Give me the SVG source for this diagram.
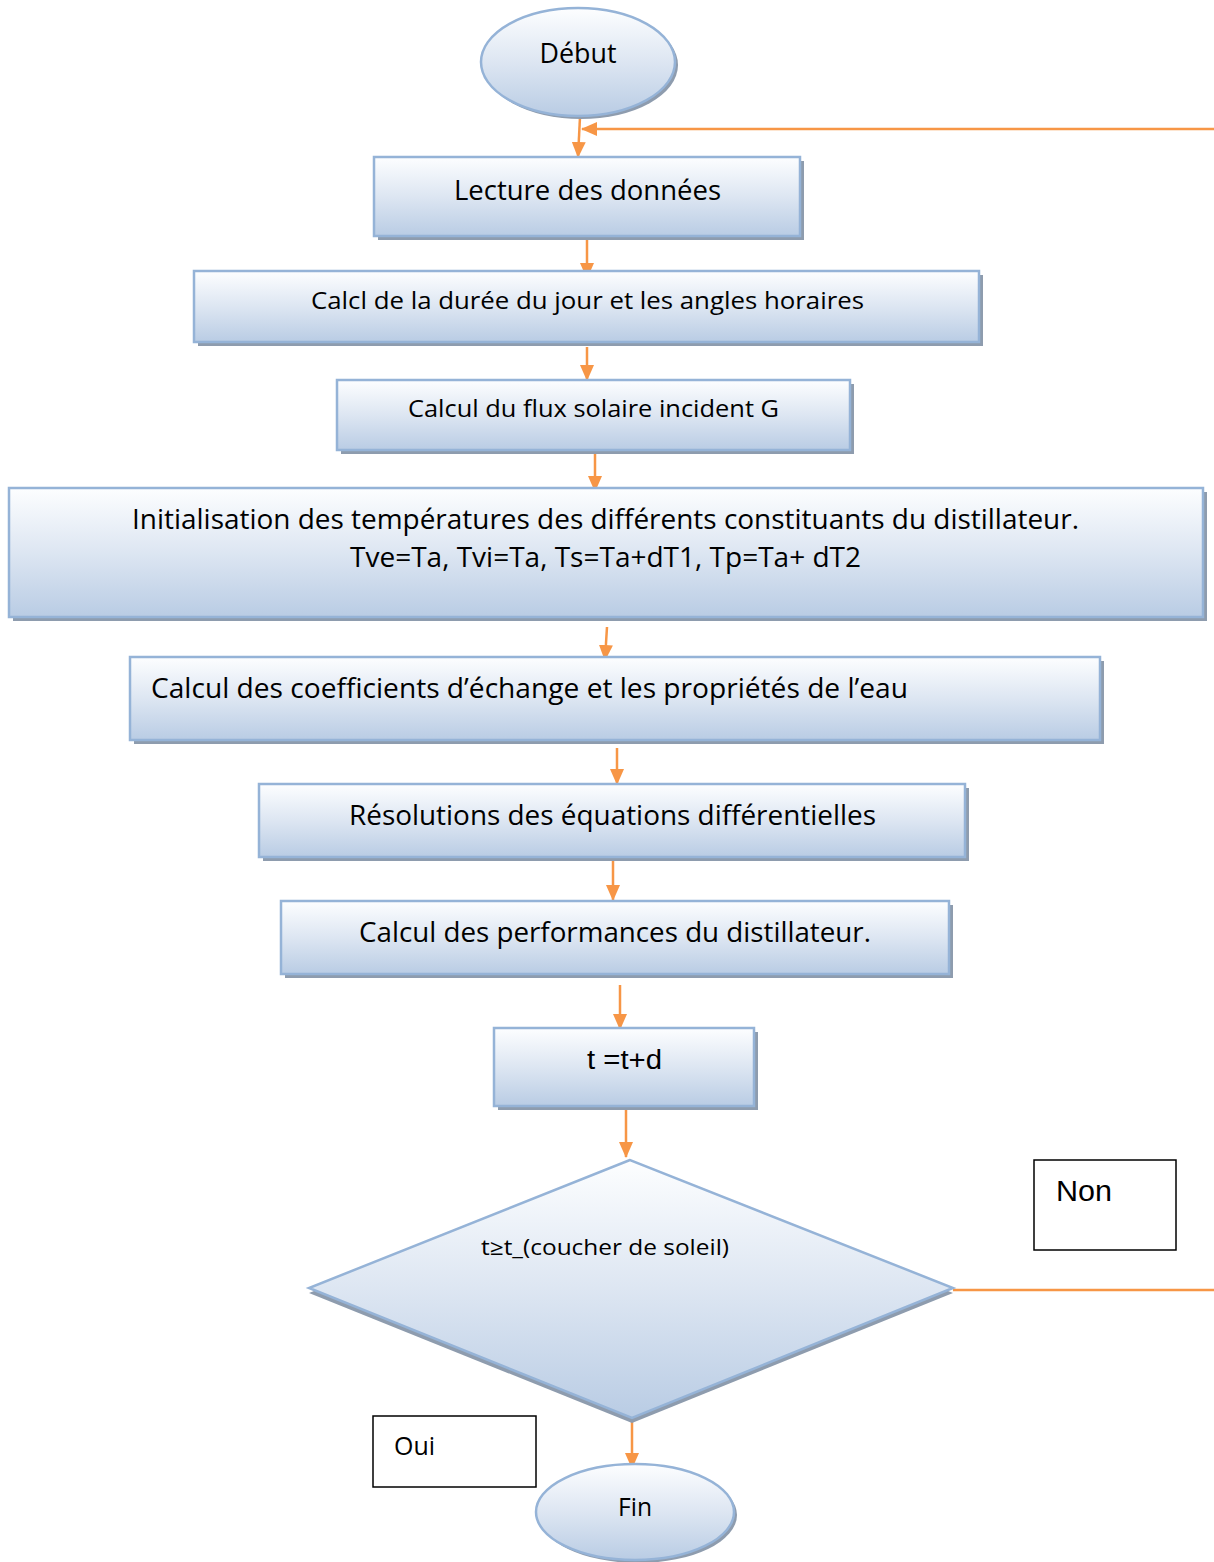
<svg xmlns="http://www.w3.org/2000/svg" width="1214" height="1562" viewBox="0 0 1214 1562">
<defs>
<linearGradient id="g" x1="0" y1="0" x2="0" y2="1">
<stop offset="0" stop-color="#fdfeff"/>
<stop offset="0.5" stop-color="#dde6f2"/>
<stop offset="1" stop-color="#b9cce4"/>
</linearGradient>
<marker id="ah" markerWidth="16" markerHeight="14" refX="15" refY="7" orient="auto" markerUnits="userSpaceOnUse" viewBox="0 0 16 14">
<path d="M0,0 L16,7 L0,14 Z" fill="#f79646"/>
</marker>
<style>
.n{fill:url(#g);stroke:#95b3d7;stroke-width:2.5}
.sh{fill:#8e9cae}
.t{font-family:"Open Sans","Liberation Sans",sans-serif;fill:#000}
.ar{font-family:"Liberation Sans","Open Sans",sans-serif;fill:#000}
.c{stroke:#f79646;stroke-width:2.5;fill:none}
.a{marker-end:url(#ah)}
.lb{fill:#fff;stroke:#000;stroke-width:1.5}
</style>
</defs>
<g id="connectors">
<line class="c a" x1="580" y1="117" x2="578" y2="157"/>
<line class="c a" x1="1214" y1="129" x2="582" y2="129"/>
<line class="c a" x1="587" y1="234" x2="587" y2="278"/>
<line class="c a" x1="587" y1="347" x2="587" y2="380"/>
<line class="c a" x1="595" y1="450" x2="595" y2="491"/>
<line class="c a" x1="607" y1="627" x2="605" y2="660"/>
<line class="c a" x1="617" y1="748" x2="617" y2="784"/>
<line class="c a" x1="613" y1="860" x2="613" y2="900"/>
<line class="c a" x1="620" y1="985" x2="620" y2="1029"/>
<line class="c a" x1="626" y1="1106" x2="626" y2="1157"/>
<line class="c" x1="953" y1="1290" x2="1214" y2="1290"/>
<line class="c a" x1="632" y1="1420" x2="632" y2="1468"/>
</g>
<g id="debut">
<ellipse class="sh" cx="581" cy="65" rx="97" ry="54"/>
<ellipse class="n" cx="578" cy="62" rx="97" ry="54"/>
<text class="t" x="578" y="63" font-size="27" text-anchor="middle" textLength="77" lengthAdjust="spacingAndGlyphs">Début</text>
</g>
<g id="lecture">
<rect class="sh" x="378" y="161" width="426" height="79"/>
<rect class="n" x="374" y="157" width="426" height="79"/>
<text class="t" x="454" y="200" font-size="28" textLength="267" lengthAdjust="spacingAndGlyphs">Lecture des données</text>
</g>
<g id="duree">
<rect class="sh" x="198" y="275" width="785" height="71"/>
<rect class="n" x="194" y="271" width="785" height="71"/>
<text class="t" x="311" y="309" font-size="24" textLength="553" lengthAdjust="spacingAndGlyphs">Calcl de la durée du jour et les angles  horaires</text>
</g>
<g id="flux">
<rect class="sh" x="341" y="384" width="513" height="70"/>
<rect class="n" x="337" y="380" width="513" height="70"/>
<text class="t" x="408" y="417" font-size="24" textLength="371" lengthAdjust="spacingAndGlyphs">Calcul du flux solaire incident G</text>
</g>
<g id="init">
<rect class="sh" x="13" y="492" width="1194" height="129"/>
<rect class="n" x="9" y="488" width="1194" height="129"/>
<text class="t" x="132" y="529" font-size="26.5" textLength="947" lengthAdjust="spacingAndGlyphs">Initialisation des températures des différents constituants du distillateur.</text>
<text class="t" x="350" y="567" font-size="26.5" textLength="511" lengthAdjust="spacingAndGlyphs">Tve=Ta, Tvi=Ta, Ts=Ta+dT1, Tp=Ta+ dT2</text>
</g>
<g id="coef">
<rect class="sh" x="134" y="661" width="970" height="83"/>
<rect class="n" x="130" y="657" width="970" height="83"/>
<text class="t" x="151" y="698" font-size="26.5" textLength="757" lengthAdjust="spacingAndGlyphs">Calcul des coefficients d’échange et les propriétés de l’eau</text>
</g>
<g id="resolution">
<rect class="sh" x="263" y="788" width="706" height="73"/>
<rect class="n" x="259" y="784" width="706" height="73"/>
<text class="t" x="349" y="825" font-size="26.5" textLength="527" lengthAdjust="spacingAndGlyphs">Résolutions des équations différentielles</text>
</g>
<g id="performances">
<rect class="sh" x="285" y="905" width="668" height="73"/>
<rect class="n" x="281" y="901" width="668" height="73"/>
<text class="t" x="359" y="942" font-size="26.5" textLength="512" lengthAdjust="spacingAndGlyphs">Calcul des performances du distillateur.</text>
</g>
<g id="increment">
<rect class="sh" x="498" y="1032" width="260" height="78"/>
<rect class="n" x="494" y="1028" width="260" height="78"/>
<text class="ar" x="587" y="1069" font-size="27" textLength="75" lengthAdjust="spacingAndGlyphs">t =t+d</text>
</g>
<g id="decision">
<polygon class="sh" points="630,1164 309,1293 632,1423 953,1293"/>
<polygon class="n" points="630,1160 309,1288 632,1418 953,1288"/>
<text class="t" x="481" y="1255" font-size="21.5" textLength="248" lengthAdjust="spacingAndGlyphs">t≥t_(coucher de soleil)</text>
</g>
<g id="non">
<rect class="lb" x="1034" y="1160" width="142" height="90"/>
<text class="ar" x="1056" y="1201" font-size="29" textLength="56" lengthAdjust="spacingAndGlyphs">Non</text>
</g>
<g id="oui">
<rect class="lb" x="373" y="1416" width="163" height="71"/>
<text class="t" x="394" y="1455" font-size="25" textLength="41" lengthAdjust="spacingAndGlyphs">Oui</text>
</g>
<g id="fin">
<ellipse class="sh" cx="638" cy="1515" rx="99" ry="48"/>
<ellipse class="n" cx="635" cy="1512" rx="99" ry="48"/>
<text class="t" x="635" y="1516" font-size="25" text-anchor="middle" textLength="34" lengthAdjust="spacingAndGlyphs">Fin</text>
</g>
</svg>
